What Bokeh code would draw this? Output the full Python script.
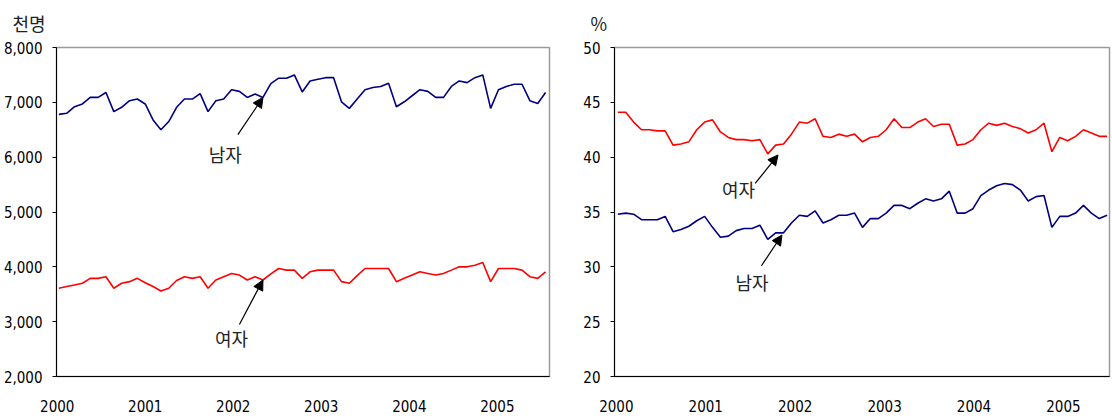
from bokeh.plotting import figure
from bokeh.layouts import row
from bokeh.models import Range1d, FixedTicker, Label, Arrow, NormalHead
from bokeh.embed import file_html
from bokeh.resources import INLINE

# ---- data (monthly, Jan 2000 - Mar 2005) ----
years = ["2000", "2001", "2002", "2003", "2004", "2005"]

men_count = [6780, 6800, 6920, 6970, 7090, 7090, 7180, 6830, 6910, 7030,
             7060, 6970, 6680, 6500, 6650, 6910, 7060, 7060, 7160, 6830,
             7030, 7060, 7230, 7200, 7090, 7150, 7090, 7340, 7440, 7440,
             7500, 7190, 7390, 7420, 7450, 7450, 7010, 6890, 7060, 7230,
             7270, 7290, 7350, 6920, 7010, 7120, 7230, 7200, 7090, 7090,
             7290, 7390, 7360, 7450, 7500, 6890, 7230, 7290, 7330, 7330,
             7030, 6980, 7180]
women_count = [3610, 3640, 3670, 3700, 3790, 3790, 3820, 3610, 3700, 3730,
               3790, 3710, 3640, 3560, 3610, 3750, 3820, 3790, 3820, 3610,
               3760, 3820, 3880, 3850, 3760, 3820, 3760, 3870, 3970, 3940,
               3940, 3790, 3910, 3940, 3940, 3940, 3730, 3700, 3840, 3970,
               3970, 3970, 3970, 3730, 3790, 3850, 3910, 3880, 3850, 3880,
               3940, 4000, 4000, 4030, 4080, 3730, 3970, 3970, 3970, 3940,
               3820, 3790, 3910]
women_rate = [44.1, 44.1, 43.2, 42.5, 42.5, 42.4, 42.4, 41.1, 41.2, 41.4,
              42.5, 43.2, 43.4, 42.3, 41.8, 41.6, 41.6, 41.5, 41.6, 40.3,
              41.1, 41.2, 42.1, 43.2, 43.1, 43.5, 41.9, 41.8, 42.1, 41.9,
              42.1, 41.4, 41.8, 41.9, 42.5, 43.5, 42.7, 42.7, 43.2, 43.5,
              42.8, 43.0, 43.0, 41.1, 41.2, 41.6, 42.5, 43.1, 42.9, 43.1,
              42.8, 42.6, 42.2, 42.5, 43.1, 40.5, 41.8, 41.5, 41.9, 42.5,
              42.2, 41.9, 41.9]
men_rate = [34.8, 34.9, 34.8, 34.3, 34.3, 34.3, 34.6, 33.2, 33.4, 33.7,
            34.2, 34.6, 33.6, 32.7, 32.8, 33.3, 33.5, 33.5, 33.8, 32.5,
            33.1, 33.1, 34.0, 34.7, 34.6, 35.1, 34.0, 34.3, 34.7, 34.7,
            34.9, 33.6, 34.4, 34.4, 34.9, 35.6, 35.6, 35.3, 35.8, 36.2,
            36.0, 36.2, 36.9, 34.9, 34.9, 35.3, 36.5, 37.0, 37.4, 37.6,
            37.5, 37.0, 36.0, 36.4, 36.5, 33.6, 34.6, 34.6, 34.9, 35.6,
            34.9, 34.4, 34.7]

left_ticks = [2000, 3000, 4000, 5000, 6000, 7000, 8000]
right_ticks = [20, 25, 30, 35, 40, 45, 50]

idx = list(range(len(men_count)))
NAVY = "#000080"
RED = "#FF0000"
NUM_FONT = "'DejaVu Sans Condensed', 'Liberation Sans', sans-serif"
KO_FONT = "Noto Sans CJK KR"


def base_fig(width, left, right, xr, yr, yticks, fmt, unit, unit_offset):
    p = figure(width=width, height=419, output_backend="svg", toolbar_location=None,
               x_range=Range1d(*xr), y_range=Range1d(*yr),
               min_border_left=left, min_border_right=right,
               min_border_top=47, min_border_bottom=43)
    p.title.text = unit
    p.title.align = "left"
    p.title.offset = unit_offset
    p.title.standoff = 19
    p.title.vertical_align = "top"
    p.title.text_font = KO_FONT
    p.title.text_font_size = "18px"
    p.title.text_font_style = "normal"
    p.title.text_color = "#222222"
    p.grid.visible = False
    p.outline_line_color = "#9a9a9a"
    p.outline_line_width = 1.5
    p.background_fill_color = "white"
    p.border_fill_color = "white"
    # y axis
    p.yaxis.ticker = FixedTicker(ticks=yticks)
    p.yaxis.major_label_overrides = {t: fmt(t) for t in yticks}
    p.yaxis.major_tick_out = 4
    p.yaxis.major_tick_in = 0
    p.yaxis.minor_tick_line_color = None
    p.yaxis.axis_line_color = "black"
    p.yaxis.major_tick_line_color = "black"
    p.yaxis.major_label_standoff = 10
    p.yaxis.major_label_text_font = NUM_FONT
    p.yaxis.major_label_text_font_size = "15px"
    p.yaxis.major_label_text_color = "black"
    # x axis
    p.xaxis.major_tick_line_color = None
    p.xaxis.minor_tick_line_color = None
    p.xaxis.axis_line_color = "black"
    p.xaxis.major_label_standoff = 17
    p.xaxis.major_label_text_font = NUM_FONT
    p.xaxis.major_label_text_font_size = "15px"
    p.xaxis.major_label_text_color = "black"
    return p


def add_arrow(p, x0, y0, x1, y1):
    p.add_layout(Arrow(end=NormalHead(size=10, fill_color="black", line_color="black"),
                       x_start=x0, y_start=y0, x_end=x1, y_end=y1,
                       line_color="black", line_width=1.2))


def add_text(p, x, y, t, size="18px"):
    p.add_layout(Label(x=x, y=y, text=t, text_font=KO_FONT, text_font_size=size,
                       text_align="center", text_baseline="middle", text_color="#222222"))


# ---- left panel: 천명 ----
p1 = base_fig(570, 56, 21, (-0.3, 62.5), (2000, 8000), left_ticks,
              lambda t: f"{t:,}", "천명", -44)
lt = [-0.2 + 11.21 * i for i in range(len(years))]
p1.xaxis.ticker = FixedTicker(ticks=lt)
p1.xaxis.major_label_overrides = {t: y for t, y in zip(lt, years)}
p1.line(idx, men_count, line_color=NAVY, line_width=1.6)
p1.line(idx, women_count, line_color=RED, line_width=1.6)
add_arrow(p1, 22.8, 6410, 26.0, 7090)
add_text(p1, 21.2, 6050, "남자")
add_arrow(p1, 23.0, 2950, 26.0, 3760)
add_text(p1, 22.0, 2710, "여자")

# ---- right panel: % ----
p2 = base_fig(542, 44, 3, (-0.42, 62.3), (20, 50), right_ticks,
              lambda t: f"{t}", "%", -24)
rt = [-0.19 + 11.33 * i for i in range(len(years))]
p2.xaxis.ticker = FixedTicker(ticks=rt)
p2.xaxis.major_label_overrides = {t: y for t, y in zip(rt, years)}
p2.line(idx, women_rate, line_color=RED, line_width=1.6)
p2.line(idx, men_rate, line_color=NAVY, line_width=1.6)
add_arrow(p2, 17.4, 37.6, 20.3, 40.2)
add_text(p2, 15.3, 37.1, "여자")
add_arrow(p2, 18.2, 30.1, 20.8, 32.9)
add_text(p2, 17.0, 28.6, "남자")

layout = row(p1, p2)
open("out.html", "w").write(file_html(layout, INLINE))
